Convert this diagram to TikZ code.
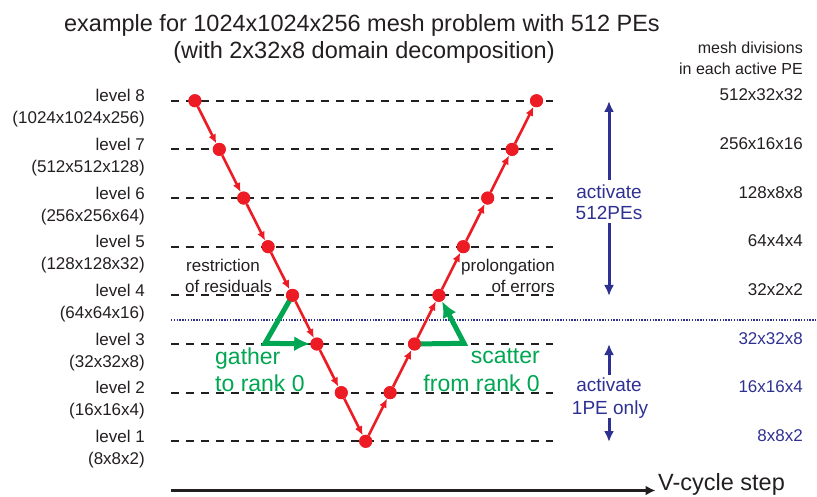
\documentclass[tikz,border=0pt]{standalone}
\usepackage{fontspec}
\setmainfont{Liberation Sans}
\usetikzlibrary{arrows.meta}

\definecolor{inkgray}{RGB}{35,31,32}
\definecolor{vred}{RGB}{237,28,36}
\definecolor{pegreen}{RGB}{0,166,81}
\definecolor{penavy}{RGB}{46,49,146}

\tikzset{
  guide/.style={draw=inkgray, line width=2pt, dash pattern=on 8pt off 7pt},
  splitline/.style={draw=penavy, line width=2pt, dash pattern=on 1.4pt off 1.4pt},
  vdot/.style={circle, fill=vred, minimum size=13pt, inner sep=0pt},
  vstep/.style={draw=vred, line width=2.6pt, -{Latex[length=9pt,width=8pt]}},
  transfer/.style={draw=pegreen, line width=5pt, line join=miter,
    -{Latex[length=16pt,width=15pt]}},
  rangearrow/.style={draw=penavy, line width=3pt, -{Latex[length=11pt,width=10pt]}},
  axisarrow/.style={draw=inkgray, line width=3pt, -{Latex[length=10pt,width=10pt]}},
  lbl/.style={inner sep=0pt, text=inkgray, font=\fontsize{17}{20}\selectfont},
  notelbl/.style={inner sep=0pt, text=inkgray, font=\fontsize{16}{19}\selectfont},
  greenlbl/.style={inner sep=0pt, text=pegreen, font=\fontsize{23}{27}\selectfont},
  navylbl/.style={inner sep=0pt, text=penavy, font=\fontsize{19}{22}\selectfont},
  biglbl/.style={inner sep=0pt, text=inkgray, font=\fontsize{23.5}{27}\selectfont},
}

\begin{document}
\begin{tikzpicture}[x=1pt, y=-1pt]
\useasboundingbox (0,0) rectangle (817,497);

% title
\node[biglbl, anchor=base] (title1) at (362,31.7) {example for 1024x1024x256 mesh problem with 512 PEs};
\node[biglbl, anchor=base] (title2) at (364,58.5) {(with 2x32x8 domain decomposition)};
\node[notelbl, anchor=base east] (hdr1) at (803,54) {mesh divisions};
\node[notelbl, anchor=base east] (hdr2) at (803,75) {in each active PE};

% level lines, labels and per-PE sizes
\foreach \k/\sz/\pe/\pc in {8/1024x1024x256/512x32x32/inkgray,
                          7/512x512x128/256x16x16/inkgray,
                          6/256x256x64/128x8x8/inkgray,
                          5/128x128x32/64x4x4/inkgray,
                          4/64x64x16/32x2x2/inkgray,
                          3/32x32x8/32x32x8/penavy,
                          2/16x16x4/16x16x4/penavy,
                          1/8x8x2/8x8x2/penavy}{
  \pgfmathsetmacro{\ly}{441.3-48.65*(\k-1)}
  \draw[guide] (171,\ly) -- (553,\ly);
  \node[lbl, anchor=base east] (lev\k) at (145,\ly+1) {level \k};
  \node[lbl, anchor=base east] (size\k) at (145,\ly+23) {(\sz)};
  \node[lbl, anchor=base east, text=\pc] (pe\k) at (803,\ly) {\pe};
}

% boundary between 512-PE and 1-PE levels
\draw[splitline] (171,320) -- (817,320);

% V-cycle points
\foreach \k in {1,...,8}{
  \pgfmathsetmacro{\ly}{441.3-48.65*(\k-1)}
  \pgfmathsetmacro{\dx}{24.4*(\k-1)}
  \coordinate (pL\k) at (365.7-\dx,\ly);
  \coordinate (pR\k) at (365.7+\dx,\ly);
}

% gather / scatter transfers
\coordinate (gcorner) at (265,343.3);
\coordinate (scorner) at (464,343.3);
\node[vdot] (L1) at (pL1) {};
\foreach \k in {2,...,8}{
  \node[vdot] (L\k) at (pL\k) {};
  \node[vdot] (R\k) at (pR\k) {};
}
\draw[transfer] (L4.center) -- (gcorner) -- (L3);
\draw[transfer] (R3.center) -- (scorner) -- (R4);

% restriction and prolongation steps
\draw[vstep] (L8) -- (L7);
\draw[vstep] (L7) -- (L6);
\draw[vstep] (L6) -- (L5);
\draw[vstep] (L5) -- (L4);
\draw[vstep] (L4) -- (L3);
\draw[vstep] (L3) -- (L2);
\draw[vstep] (L2) -- (L1);
\draw[vstep] (L1) -- (R2);
\draw[vstep] (R2) -- (R3);
\draw[vstep] (R3) -- (R4);
\draw[vstep] (R4) -- (R5);
\draw[vstep] (R5) -- (R6);
\draw[vstep] (R6) -- (R7);
\draw[vstep] (R7) -- (R8);
% dots on top
\foreach \k in {2,...,8}{
  \fill[vred] (L\k) circle (6.5);
  \fill[vred] (R\k) circle (6.5);
}
\fill[vred] (L1) circle (6.5);

% step labels
\node[lbl, anchor=base west] (restr1) at (186,272) {restriction};
\node[lbl, anchor=base west] (restr2) at (185,293) {of residuals};
\node[lbl, anchor=base east] (prol1) at (555,272) {prolongation};
\node[lbl, anchor=base east] (prol2) at (555,293) {of errors};
\node[greenlbl, anchor=base west] (gath1) at (215,364.5) {gather};
\node[greenlbl, anchor=base west] (gath2) at (215,391.5) {to rank 0};
\node[greenlbl, anchor=base east] (scat1) at (540,363.5) {scatter};
\node[greenlbl, anchor=base east] (scat2) at (540,391.5) {from rank 0};

% active PE ranges
\node[navylbl, anchor=base] (act1) at (609,198.5) {activate};
\node[navylbl, anchor=base] (act2) at (609,220) {512PEs};
\node[navylbl, anchor=base] (one1) at (609,391.7) {activate};
\node[navylbl, anchor=base] (one2) at (610,414.3) {1PE only};
\coordinate (upA) at (609,180);
\coordinate (upB) at (609,101);
\coordinate (dnA) at (609,223);
\coordinate (dnB) at (609,296);
\coordinate (upC) at (609,375);
\coordinate (upD) at (609,344);
\coordinate (dnC) at (609,418);
\coordinate (dnD) at (609,442);
\draw[rangearrow] (upA) -- (upB);
\draw[rangearrow] (dnA) -- (dnB);
\draw[rangearrow] (upC) -- (upD);
\draw[rangearrow] (dnC) -- (dnD);

% time axis
\coordinate (axS) at (171,490.5);
\node[biglbl, anchor=base west] (axlbl) at (658,490) {V-cycle step};
\draw[axisarrow, shorten >=2.5pt] (axS) -- (axlbl.west |- axS);
\end{tikzpicture}
\end{document}
